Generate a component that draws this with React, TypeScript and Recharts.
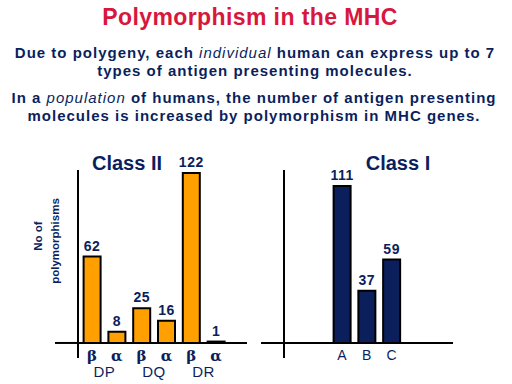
import React from "react";
import { BarChart, Bar, XAxis, YAxis, ReferenceLine, LabelList } from "recharts";

const classIISub = ["β", "α", "β", "α", "β", "α"];
const classIIGene = ["DP", "DP", "DQ", "DQ", "DR", "DR"];
const classIIValues = [62, 8, 25, 16, 122, 1];

const classICats = ["A", "B", "C"];
const classIValues = [111, 37, 59];

const NAVY = "#0b1f5c";
const ORANGE = "#FFA000";
const RED = "#D8173C";
const SANS = "'Liberation Sans', Arial, Helvetica, sans-serif";
const SERIF = "'DejaVu Serif', 'Liberation Serif', serif";

const dataII = classIISub.map((s, i) => ({ sub: s, gene: classIIGene[i], value: classIIValues[i] }));
const dataI = classICats.map((c, i) => ({ cat: c, value: classIValues[i] }));

const NoTick = () => <g />;

// The gene axis sits directly under the plot (y = 358); the sub axis follows it (y = 374).
const GreekTick = (props: any) => {
  const { x, y, payload } = props;
  return (
    <text x={x} y={y - 13} textAnchor="middle" fontFamily={SERIF} fontWeight="bold" fontSize={15} fill={NAVY}>
      {payload.value}
    </text>
  );
};

const GeneTick = (props: any) => {
  const { x, y, payload } = props;
  return (
    <text x={x} y={y + 19} textAnchor="middle" fontFamily={SANS} fontSize={15} letterSpacing={0.5} fill={NAVY}>
      {payload.value}
    </text>
  );
};

const LetterTick = (props: any) => {
  const { x, y, payload } = props;
  return (
    <text x={x} y={y + 2} textAnchor="middle" fontFamily={SANS} fontSize={14} fill={NAVY}>
      {payload.value}
    </text>
  );
};

const axisStyle = { stroke: "#000", strokeWidth: 2 };

export default function App() {
  return (
    <div style={{ position: "absolute", left: 0, top: 0, width: 512, height: 384, background: "#fff", overflow: "hidden" }}>
      <div style={{ position: "absolute", left: 0, top: 0 }}>
        <BarChart width={256} height={384} data={dataII} margin={{ top: 170, right: 9, bottom: 0, left: 0 }}>
          <XAxis
            xAxisId="sub"
            dataKey="sub"
            height={10}
            axisLine={false}
            tickLine={false}
            tickSize={0}
            tickMargin={0}
            interval={0}
            padding={{ left: 1.6, right: 18.6 }}
            tick={<GreekTick />}
          />
          <XAxis
            xAxisId="gene"
            dataKey="gene"
            allowDuplicatedCategory={false}
            height={16}
            axisLine={false}
            tickLine={false}
            tickSize={0}
            tickMargin={0}
            interval={0}
            padding={{ left: 1.6, right: 18.6 }}
            tick={<GeneTick />}
          />
          <YAxis
            width={78}
            domain={[-10.8, 124.2]}
            allowDataOverflow
            ticks={[0]}
            interval={0}
            tickSize={23}
            axisLine={axisStyle}
            tickLine={axisStyle}
            tick={<NoTick />}
          />
          <ReferenceLine xAxisId="sub" y={0} stroke="#000" strokeWidth={2} />
          <Bar xAxisId="sub" dataKey="value" fill={ORANGE} stroke="#000" strokeWidth={2} barSize={17} isAnimationActive={false}>
            <LabelList dataKey="value" position="top" offset={6} fill={NAVY} fontSize={14} fontWeight="bold" fontFamily={SANS} letterSpacing={0.5} />
          </Bar>
        </BarChart>
      </div>
      <div style={{ position: "absolute", left: 256, top: 0 }}>
        <BarChart width={256} height={384} data={dataI} margin={{ top: 170, right: 59, bottom: 0, left: 0 }}>
          <XAxis
            dataKey="cat"
            height={26}
            axisLine={false}
            tickLine={false}
            tickSize={0}
            tickMargin={0}
            interval={0}
            padding={{ left: 45.6, right: 49.1 }}
            tick={<LetterTick />}
          />
          <YAxis
            width={28}
            domain={[-10.6, 122.3]}
            allowDataOverflow
            ticks={[0]}
            interval={0}
            tickSize={23}
            axisLine={axisStyle}
            tickLine={axisStyle}
            tick={<NoTick />}
          />
          <ReferenceLine y={0} stroke="#000" strokeWidth={2} />
          <Bar dataKey="value" fill={NAVY} stroke="#000" strokeWidth={2} barSize={17} isAnimationActive={false}>
            <LabelList dataKey="value" position="top" offset={6} fill={NAVY} fontSize={14} fontWeight="bold" fontFamily={SANS} letterSpacing={0.5} />
          </Bar>
        </BarChart>
      </div>
      <svg width={512} height={384} style={{ position: "absolute", left: 0, top: 0, pointerEvents: "none" }}>
        <text x={250} y={25} textAnchor="middle" fontFamily={SANS} fontWeight="bold" fontSize={23} letterSpacing={0.4} fill={RED}>
          Polymorphism in the MHC
        </text>
        <g fontFamily={SANS} fontWeight="bold" fontSize={15} letterSpacing={1} fill={NAVY} textAnchor="middle">
          <text x={255} y={58}>
            Due to polygeny, each <tspan fontStyle="italic" fontWeight="normal">individual</tspan> human can express up to 7
          </text>
          <text x={255} y={76}>types of antigen presenting molecules.</text>
          <text x={254} y={103}>
            In a <tspan fontStyle="italic" fontWeight="normal">population</tspan> of humans, the number of antigen presenting
          </text>
          <text x={254} y={121}>molecules is increased by polymorphism in MHC genes.</text>
        </g>
        <text x={127} y={170} textAnchor="middle" fontFamily={SANS} fontWeight="bold" fontSize={20} fill={NAVY}>
          Class II
        </text>
        <text x={398} y={170} textAnchor="middle" fontFamily={SANS} fontWeight="bold" fontSize={20} fill={NAVY}>
          Class I
        </text>
        <g fontFamily={SANS} fontWeight="bold" fontSize={11.5} fill={NAVY} textAnchor="middle">
          <text x={0} y={0} transform="translate(42 236) rotate(-90)">No of</text>
          <text x={0} y={0} transform="translate(59 241) rotate(-90)">polymorphisms</text>
        </g>
      </svg>
    </div>
  );
}
